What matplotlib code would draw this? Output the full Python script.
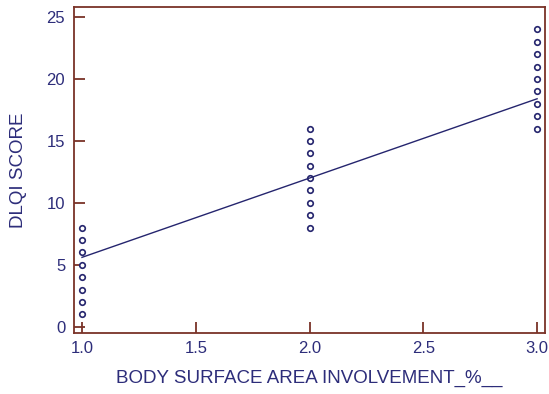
import matplotlib
matplotlib.use('Agg')
import matplotlib.pyplot as plt

# data
x_low = [1.0] * 8
y_low = [1, 2, 3, 4, 5, 6, 7, 8]
x_mid = [2.0] * 9
y_mid = [8, 9, 10, 11, 12, 13, 14, 15, 16]
x_high = [3.0] * 9
y_high = [16, 17, 18, 19, 20, 21, 22, 23, 24]

line_x = [1.0, 3.0]
line_y = [5.6, 18.4]

xticks = [1.0, 1.5, 2.0, 2.5, 3.0]
yticks = [0, 5, 10, 15, 20, 25]

navy = '#25256e'
label_col = '#2d2d7a'
frame_col = '#7a3328'

plt.rcParams['font.family'] = ['Liberation Sans', 'DejaVu Sans']

fig = plt.figure(figsize=(5.49, 3.94), dpi=100)
ax = fig.add_axes([0.134, 0.155, 0.858, 0.827])

xs = x_low + x_mid + x_high
ys = y_low + y_mid + y_high
ax.plot(xs, ys, linestyle='none', marker='o', markersize=4,
        markerfacecolor='white', markeredgecolor=navy, markeredgewidth=1.2)
ax.plot(line_x, line_y, color=navy, linewidth=1)

ax.set_xlim(0.963, 3.033)
ax.set_ylim(-0.5, 25.8)
ax.set_xticks(xticks)
ax.set_xticklabels([f'{t:.1f}' for t in xticks])
ax.set_yticks(yticks)

for s in ax.spines.values():
    s.set_color(frame_col)
    s.set_linewidth(1.3)
ax.tick_params(direction='in', length=8, width=1.3, color=frame_col,
               labelcolor=label_col, labelsize=12, pad=6)

ax.set_xlabel('BODY SURFACE AREA INVOLVEMENT_%__', color=label_col,
              fontsize=13.5, labelpad=10)
ax.set_ylabel('DLQI SCORE', color=label_col, fontsize=13.5, labelpad=14)

fig.savefig('out.png', dpi=100)
